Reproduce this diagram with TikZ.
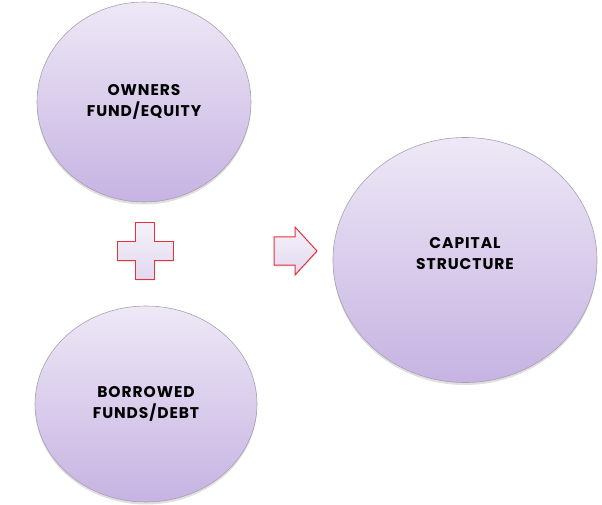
\documentclass[tikz,border=0pt]{standalone}
\usepackage{fontspec}
\setsansfont{Poppins}
\usetikzlibrary{calc, shapes.geometric, shadows}

\definecolor{lavtop}{HTML}{EEE8F6}
\definecolor{lavbot}{HTML}{C6B3E2}
\definecolor{rimgray}{HTML}{A8A0B4}
\definecolor{signred}{HTML}{E8313A}

\tikzset{
  fundball/.style={ellipse, draw=rimgray, line width=0.6pt,
    top color=lavtop, bottom color=lavbot,
    drop shadow={shadow xshift=0pt, shadow yshift=-2.5pt, opacity=0.25},
    align=center, inner sep=0pt,
    font=\sffamily\bfseries\fontsize{15.5}{21}\selectfont\addfontfeature{LetterSpace=6}},
  signshape/.style={draw=signred, line width=1pt, top color=lavtop!60!white, bottom color=lavtop!70!lavbot,
    drop shadow={shadow xshift=0pt, shadow yshift=-1.5pt, opacity=0.2}}
}

\begin{document}
\begin{tikzpicture}[x=1pt, y=1pt]
  % frame, same size as the reference
  \useasboundingbox (0,0) rectangle (602,504);

  % Sources of funds
  \node[fundball, minimum width=214pt, minimum height=200pt] (own) at (144,402) {OWNERS\\FUND/EQUITY};
  \node[fundball, minimum width=222pt, minimum height=196pt, text depth=4pt] (debt) at (146,100) {BORROWED\\FUNDS/DEBT};

  % Result (text sits a little above the centre)
  \node[fundball, minimum width=264pt, minimum height=245pt, text depth=14pt] (cap) at (465,244) {CAPITAL\\STRUCTURE};

  % Plus sign between the two sources
  \coordinate (plus) at (145,253);
  \path[signshape] ($(plus)+(-9.5,28)$) -- ++(19,0) -- ++(0,-18.5) -- ++(18.5,0) -- ++(0,-19)
    -- ++(-18.5,0) -- ++(0,-18.5) -- ++(-19,0) -- ++(0,18.5) -- ++(-18.5,0) -- ++(0,19)
    -- ++(18.5,0) -- cycle;

  % Arrow towards the result, tip at (gives)
  \coordinate (gives) at (317,253);
  \path[signshape] (gives) -- ++(-22,24) -- ++(0,-10) -- ++(-21,0) -- ++(0,-28)
    -- ++(21,0) -- ++(0,-10) -- cycle;
\end{tikzpicture}
\end{document}
